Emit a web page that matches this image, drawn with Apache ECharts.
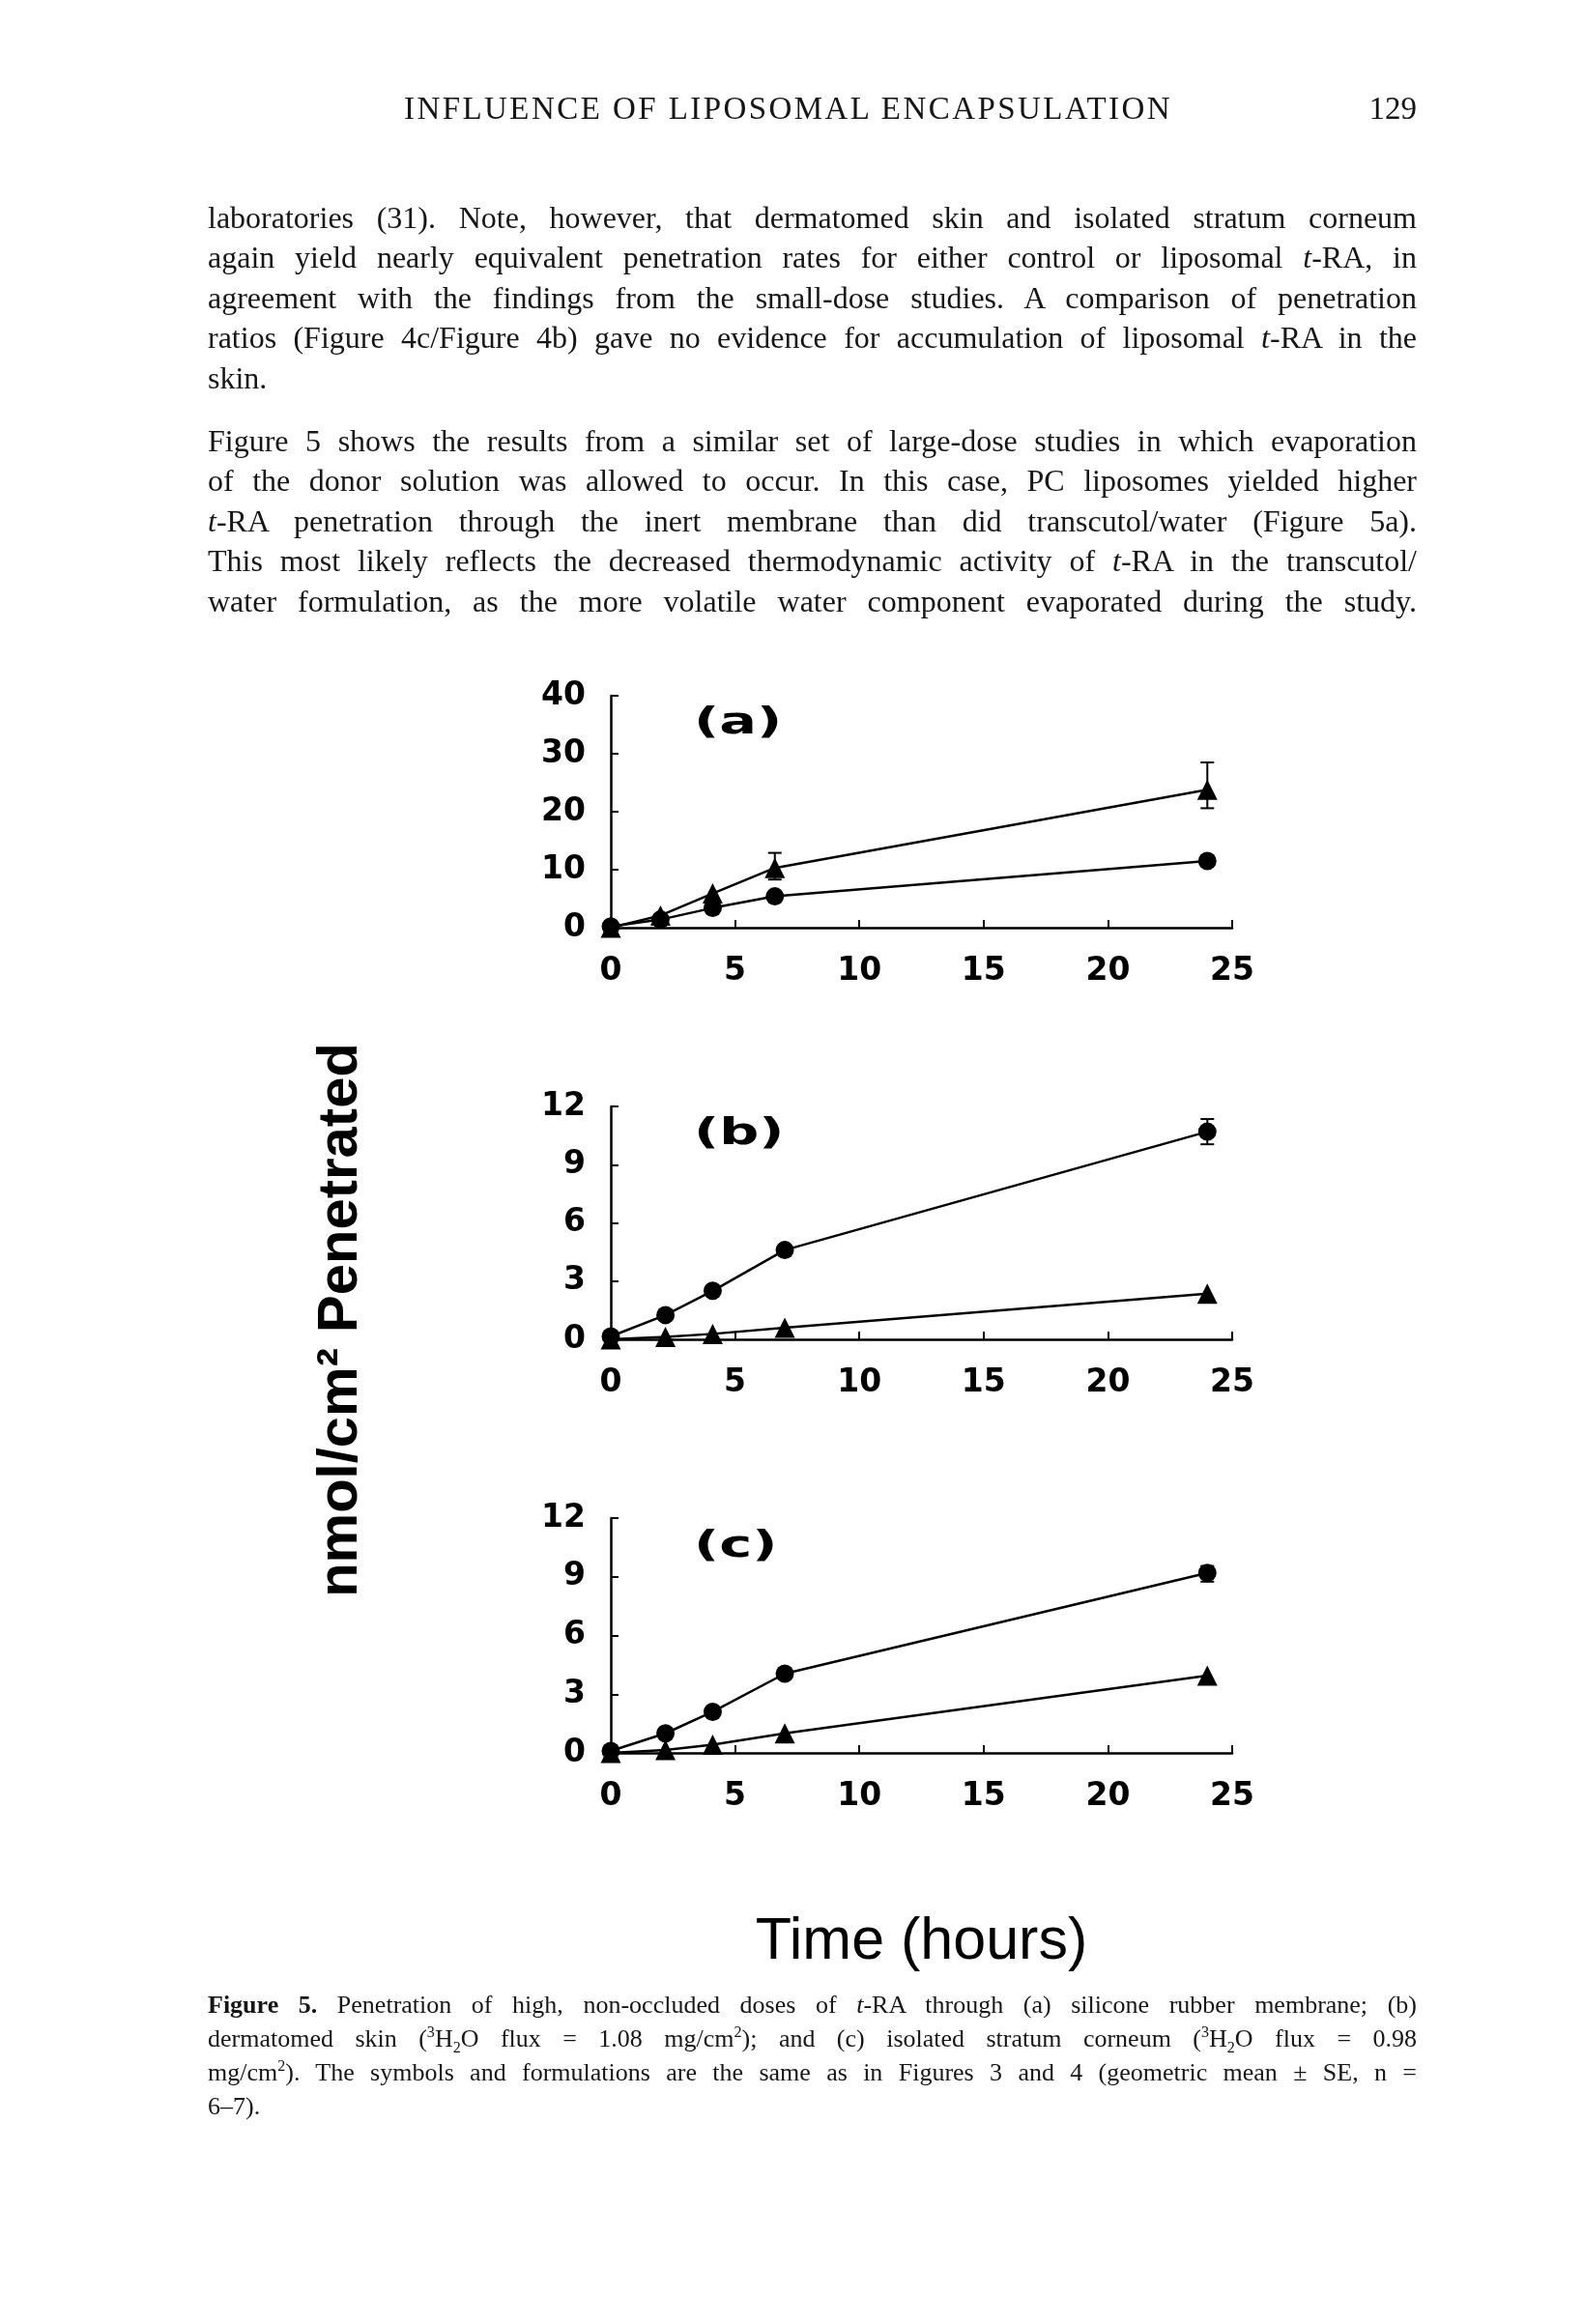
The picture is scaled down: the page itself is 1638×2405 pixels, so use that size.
<!DOCTYPE html>
<html>
<head>
<meta charset="utf-8">
<script src="https://cdn.jsdelivr.net/npm/echarts@6/dist/echarts.min.js"></script>
<style>
  html, body { margin:0; padding:0; background:#fff; }
  body { width:1638px; height:2405px; position:relative; overflow:hidden; }
  #chart { position:absolute; left:0; top:0; width:1638px; height:2405px; }
  .txt { position:absolute; font-family:"Liberation Serif","DejaVu Serif",serif; color:#161616; white-space:nowrap; }
  .body { left:215px; font-size:32px; line-height:40px; }
  .cap { left:215px; font-size:26px; line-height:34px; }
  .hdr { font-size:33px; line-height:40px; }
  sup, sub { font-size:0.62em; line-height:0; }
</style>
</head>
<body>
<div id="chart"></div>

<div class="txt hdr fit" data-w="795" style="left:418px;top:92px;">INFLUENCE OF LIPOSOMAL ENCAPSULATION</div>
<div class="txt hdr" style="left:300px;width:1166px;text-align:right;top:92px;">129</div>

<div class="txt body j" style="top:205px;">laboratories (31). Note, however, that dermatomed skin and isolated stratum corneum</div>
<div class="txt body j" style="top:246px;">again yield nearly equivalent penetration rates for either control or liposomal <i>t</i>-RA, in</div>
<div class="txt body j" style="top:288px;">agreement with the findings from the small-dose studies. A comparison of penetration</div>
<div class="txt body j" style="top:329px;">ratios (Figure 4c/Figure 4b) gave no evidence for accumulation of liposomal <i>t</i>-RA in the</div>
<div class="txt body" style="top:371px;">skin.</div>

<div class="txt body j" style="top:436px;">Figure 5 shows the results from a similar set of large-dose studies in which evaporation</div>
<div class="txt body j" style="top:477px;">of the donor solution was allowed to occur. In this case, PC liposomes yielded higher</div>
<div class="txt body j" style="top:519px;"><i>t</i>-RA penetration through the inert membrane than did transcutol/water (Figure 5a).</div>
<div class="txt body j" style="top:560px;">This most likely reflects the decreased thermodynamic activity of <i>t</i>-RA in the transcutol/</div>
<div class="txt body j" style="top:602px;">water formulation, as the more volatile water component evaporated during the study.</div>

<div class="txt cap j" style="top:2058px;"><b>Figure 5.</b> Penetration of high, non-occluded doses of <i>t</i>-RA through (a) silicone rubber membrane; (b)</div>
<div class="txt cap j" style="top:2093px;">dermatomed skin (<sup>3</sup>H<sub>2</sub>O flux = 1.08 mg/cm<sup>2</sup>); and (c) isolated stratum corneum (<sup>3</sup>H<sub>2</sub>O flux = 0.98</div>
<div class="txt cap j" style="top:2128px;">mg/cm<sup>2</sup>). The symbols and formulations are the same as in Figures 3 and 4 (geometric mean ± SE, n =</div>
<div class="txt cap" style="top:2163px;">6–7).</div>

<script>
// ---------------- data ----------------
const xTicks = [0, 5, 10, 15, 20, 25];
const yTicksA = [0, 10, 20, 30, 40];
const yTicksBC = [0, 3, 6, 9, 12];

const timesA  = [0, 2, 4.1, 6.6, 24];
const timesBC = [0, 2.2, 4.1, 7, 24];

// (a) silicone rubber membrane
const aLiposome   = [0, 2.1, 5.9, 10.3, 23.8];   // triangles (PC liposomes)
const aTranscutol = [0.2, 1.4, 3.4, 5.4, 11.5];  // circles (transcutol/water)
const aErrTime = [6.6, 24];
const aErrLow  = [8.3, 20.6];
const aErrHigh = [12.9, 28.5];

// (b) dermatomed skin
const bLiposome   = [0, 0.12, 0.28, 0.6, 2.35];
const bTranscutol = [0.15, 1.25, 2.5, 4.6, 10.7];
const bErrTime = [24];
const bErrLow  = [10.05];
const bErrHigh = [11.35];

// (c) isolated stratum corneum
const cLiposome   = [0, 0.15, 0.42, 1.0, 3.95];
const cTranscutol = [0.1, 1.0, 2.1, 4.05, 9.2];
const cErrTime = [24];
const cErrLow  = [8.75];
const cErrHigh = [9.55];

const panelLabels = ['(a)', '(b)', '(c)'];
const yAxisTitle = 'nmol/cm² Penetrated';
const xAxisTitle = 'Time (hours)';

// ---------------- chart ----------------
const chart = echarts.init(document.getElementById('chart'), null, {renderer:'canvas'});
const tickFont = 'DejaVu Sans';
const grids = [
  {left:632, width:643, top:720,  height:240},
  {left:632, width:643, top:1145, height:241},
  {left:632, width:643, top:1571, height:243}
];
const labelCenters = [749, 1174, 1601];

function xAxisCfg(i, withName) {
  const c = {
    type:'value', gridIndex:i, min:0, max:25, interval:5,
    axisLine:{show:true, lineStyle:{color:'#000', width:2.5}},
    axisTick:{show:true, inside:true, length:8, lineStyle:{color:'#000', width:2}},
    axisLabel:{fontSize:33, fontWeight:'bold', color:'#000', fontFamily:tickFont, margin:29},
    splitLine:{show:false}
  };
  if (withName) {
    c.name = xAxisTitle; c.nameLocation = 'middle'; c.nameGap = 166;
    c.nameTextStyle = {fontSize:61, color:'#000', fontFamily:'Liberation Sans'};
  }
  return c;
}
function yAxisCfg(i, max, interval) {
  return {
    type:'value', gridIndex:i, min:0, max:max, interval:interval,
    axisLine:{show:true, lineStyle:{color:'#000', width:2.5}},
    axisTick:{show:true, inside:true, length:8, lineStyle:{color:'#000', width:2}},
    axisLabel:{fontSize:33, fontWeight:'bold', color:'#000', fontFamily:tickFont, margin:26},
    splitLine:{show:false}
  };
}
function pairs(xs, ys) { return xs.map((x, k) => [x, ys[k]]); }
function lineSeries(i, name, xs, ys, symbol) {
  return {
    type:'line', name:name, xAxisIndex:i, yAxisIndex:i, data:pairs(xs, ys),
    symbol:symbol, symbolSize: symbol === 'circle' ? 19 : 21,
    itemStyle:{color:'#000'}, lineStyle:{color:'#000', width:2.5},
    clip:false, z:3, animation:false
  };
}
function errSeries(i, ts, lo, hi) {
  return {
    type:'custom', xAxisIndex:i, yAxisIndex:i,
    data: ts.map((t, k) => [t, lo[k], hi[k]]),
    encode:{x:0, y:[1,2]},
    renderItem: function(params, api) {
      const x = api.value(0);
      const pLo = api.coord([x, api.value(1)]);
      const pHi = api.coord([x, api.value(2)]);
      const h = 7;
      const st = {stroke:'#000', lineWidth:2};
      return {type:'group', children:[
        {type:'line', shape:{x1:pLo[0], y1:pLo[1], x2:pHi[0], y2:pHi[1]}, style:st},
        {type:'line', shape:{x1:pLo[0]-h, y1:pLo[1], x2:pLo[0]+h, y2:pLo[1]}, style:st},
        {type:'line', shape:{x1:pHi[0]-h, y1:pHi[1], x2:pHi[0]+h, y2:pHi[1]}, style:st}
      ]};
    },
    clip:false, z:2, animation:false
  };
}

const option = {
  animation:false,
  backgroundColor:'transparent',
  grid: grids,
  xAxis: [xAxisCfg(0,false), xAxisCfg(1,false), xAxisCfg(2,true)],
  yAxis: [yAxisCfg(0, 40, 10), yAxisCfg(1, 12, 3), yAxisCfg(2, 12, 3)],
  series: [
    lineSeries(0, 'transcutol/water', timesA, aTranscutol, 'circle'),
    lineSeries(0, 'PC liposomes', timesA, aLiposome, 'triangle'),
    errSeries(0, aErrTime, aErrLow, aErrHigh),
    lineSeries(1, 'transcutol/water', timesBC, bTranscutol, 'circle'),
    lineSeries(1, 'PC liposomes', timesBC, bLiposome, 'triangle'),
    errSeries(1, bErrTime, bErrLow, bErrHigh),
    lineSeries(2, 'transcutol/water', timesBC, cTranscutol, 'circle'),
    lineSeries(2, 'PC liposomes', timesBC, cLiposome, 'triangle'),
    errSeries(2, cErrTime, cErrLow, cErrHigh)
  ],
  graphic: panelLabels.map((t, k) => ({
      type:'text', x:718, y:labelCenters[k], scaleX:1.55,
      style:{text:t, font:'bold 37px "DejaVu Sans"', fill:'#000', align:'left', verticalAlign:'middle'}
    })).concat([
    {type:'text', x:353, y:1366, rotation:Math.PI/2,
     style:{text:yAxisTitle, font:'bold 58px "Liberation Sans"', fill:'#000', align:'center', verticalAlign:'middle'}}
  ])
};
chart.setOption(option);

// justify text lines to the column width
function justify() {
  const target = 1251;
  document.querySelectorAll('.j').forEach(el => {
    el.style.letterSpacing = '0px';
    el.style.wordSpacing = '0px';
    let w = el.getBoundingClientRect().width;
    const txt = el.textContent;
    if (w > target) {
      el.style.letterSpacing = ((target - w) / txt.length - 0.02) + 'px';
      w = el.getBoundingClientRect().width;
    }
    const spaces = (txt.match(/ /g) || []).length;
    if (spaces) el.style.wordSpacing = ((target - w) / spaces) + 'px';
  });
  document.querySelectorAll('.fit').forEach(el => {
    el.style.letterSpacing = '0px';
    const w = el.getBoundingClientRect().width;
    const tw = +el.dataset.w;
    el.style.letterSpacing = ((tw - w) / el.textContent.length) + 'px';
  });
}
justify();
if (document.fonts && document.fonts.ready) document.fonts.ready.then(justify);
</script>
</body>
</html>
